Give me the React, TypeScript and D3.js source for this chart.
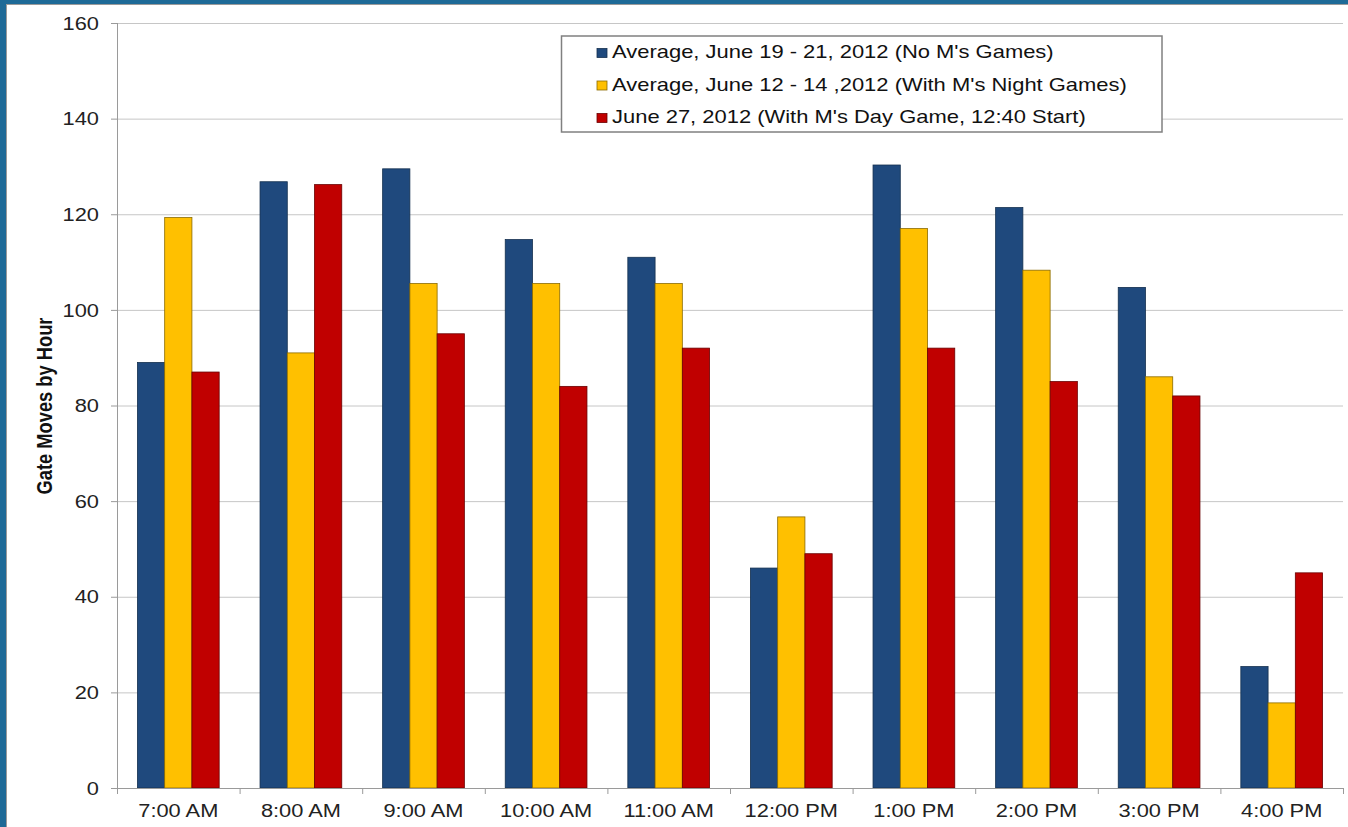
import React from "react";
import * as d3 from "d3";

const categories = ["7:00 AM", "8:00 AM", "9:00 AM", "10:00 AM", "11:00 AM", "12:00 PM", "1:00 PM", "2:00 PM", "3:00 PM", "4:00 PM"];
const seriesNames = [
  "Average, June 19 - 21, 2012 (No M's Games)",
  "Average, June 12 - 14 ,2012 (With M's Night Games)",
  "June 27, 2012 (With M's Day Game, 12:40 Start)",
];
const noGames = [89, 126.8, 129.5, 114.7, 111, 46, 130.3, 121.4, 104.7, 25.4];
const nightGames = [119.3, 91, 105.5, 105.5, 105.5, 56.7, 117, 108.3, 86, 17.8];
const dayGame = [87, 126.2, 95, 84, 92, 49, 92, 85, 82, 45];
const yTicks = [0, 20, 40, 60, 80, 100, 120, 140, 160];
const colors = ["#1f497d", "#ffc000", "#c00000"];
const strokes = ["#14304f", "#8a6a00", "#6a0000"];

const W = 1348, H = 827;
const x0 = 117, x1 = 1343, yTop = 23, yBot = 788;
const SX = 1.18;

export default function App() {
  const series = [noGames, nightGames, dayGame];
  const y = d3.scaleLinear().domain([0, 160]).range([yBot, yTop]);
  const xb = d3.scaleBand().domain(categories).range([x0, x1]).paddingInner(0).paddingOuter(0);
  const bw = xb.bandwidth();
  const barW = bw / 4.5;
  const font = "Liberation Sans, Arial, sans-serif";
  return (
    <svg width={W} height={H} style={{ position: "absolute", left: 0, top: 0 }} fontFamily={font}>
      <rect x={0} y={0} width={W} height={H} fill="#ffffff" />
      <rect x={0} y={0} width={6} height={H} fill="#1e6a97" />
      <rect x={0} y={0} width={W} height={4} fill="#1e6a97" />
      <line x1={6.5} y1={4} x2={6.5} y2={H} stroke="#9a9a9a" />
      <line x1={6} y1={4.5} x2={W} y2={4.5} stroke="#9a9a9a" />
      {yTicks.map((t) => (
        <g key={t}>
          {t > 0 && <line x1={x0} x2={x1} y1={y(t) + 0.5} y2={y(t) + 0.5} stroke="#c6c6c6" strokeWidth={1} />}
          <line x1={x0 - 6} x2={x0} y1={y(t) + 0.5} y2={y(t) + 0.5} stroke="#9a9a9a" />
          <text transform={`translate(99,${y(t)}) scale(${SX},1)`} dy="0.36em" textAnchor="end" fontSize={18.5} fill="#222">{t}</text>
        </g>
      ))}
      <line x1={x0 + 0.5} x2={x0 + 0.5} y1={yTop} y2={yBot} stroke="#9a9a9a" />
      {categories.map((c, i) => {
        const bx = xb(c)!;
        const start = bx + (bw - 3 * barW) / 2;
        return (
          <g key={c}>
            {series.map((s, k) => (
              <rect key={k} x={start + k * barW} y={y(s[i])} width={barW} height={yBot - y(s[i])}
                fill={colors[k]} stroke={strokes[k]} strokeWidth={0.8} />
            ))}
            <text transform={`translate(${bx + bw / 2},817) scale(${SX},1)`} textAnchor="middle" fontSize={18.5} fill="#222">{c}</text>
          </g>
        );
      })}
      {d3.range(categories.length + 1).map((i) => (
        <line key={i} x1={x0 + i * bw + 0.5} x2={x0 + i * bw + 0.5} y1={yBot} y2={yBot + 6} stroke="#9a9a9a" />
      ))}
      <line x1={x0} x2={x1} y1={yBot + 0.5} y2={yBot + 0.5} stroke="#9a9a9a" />
      <text transform={`translate(52,406) scale(1.2,1) rotate(-90)`} textAnchor="middle" fontSize={18.3} fontWeight="bold" fill="#111">Gate Moves by Hour</text>
      <rect x={561.5} y={36} width={600.5} height={96} fill="#fff" stroke="#808080" strokeWidth={1.5} />
      {seriesNames.map((n, k) => (
        <g key={n}>
          <rect x={597} y={48.5 + k * 32.5} width={10} height={9} fill={colors[k]} stroke={strokes[k]} strokeWidth={0.8} />
          <text transform={`translate(612,${58 + k * 32.5}) scale(1.22,1)`} fontSize={18} fill="#111">{n}</text>
        </g>
      ))}
    </svg>
  );
}
